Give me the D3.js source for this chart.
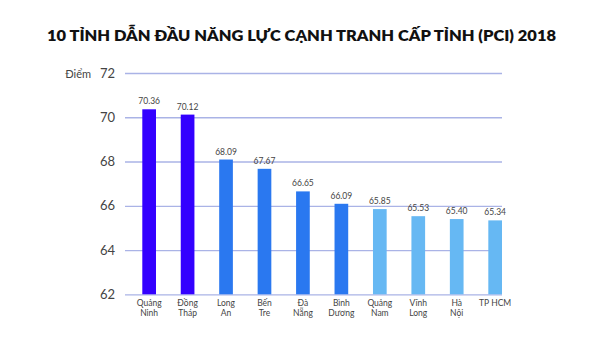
<!DOCTYPE html>
<html>
<head>
<meta charset="utf-8">
<script src="https://cdn.jsdelivr.net/npm/d3@7"></script>
<style>
  html, body { margin: 0; padding: 0; background: #fff; }
  svg { display: block; }
</style>
</head>
<body>
<svg id="chart" width="600" height="337"></svg>
<script>
// PCI 2018 – top 10 provinces
const provinces = [
  ["Quảng", "Ninh"], ["Đồng", "Tháp"], ["Long", "An"], ["Bến", "Tre"], ["Đà", "Nẵng"],
  ["Bình", "Dương"], ["Quảng", "Nam"], ["Vĩnh", "Long"], ["Hà", "Nội"], ["TP HCM"]
];
const scores = [70.36, 70.12, 68.09, 67.67, 66.65, 66.09, 65.85, 65.53, 65.40, 65.34];
const tiers = [0, 0, 1, 1, 1, 1, 2, 2, 2, 2];
const tierColors = ["#3300ff", "#2a78f0", "#66b8f3"];
const yTicks = [62, 64, 66, 68, 70, 72];

const svg = d3.select("#chart");
const FONT = "Lato, 'Noto Sans', sans-serif";

const x = d3.scaleBand()
  .domain(d3.range(scores.length))
  .range([142.3, 502])
  .paddingInner(0.644)
  .paddingOuter(0);

const y = d3.scaleLinear().domain([62, 72]).range([294.3, 73]);

// Title
svg.append("text")
  .attr("x", 47).attr("y", 40.5)
  .attr("textLength", 509)
  .attr("lengthAdjust", "spacingAndGlyphs")
  .attr("font-family", FONT)
  .attr("font-weight", 800)
  .attr("font-size", 15)
  .attr("fill", "#111")
  .text("10 TỈNH DẪN ĐẦU NĂNG LỰC CẠNH TRANH CẤP TỈNH (PCI) 2018");

// Gridlines
const yAxis = d3.axisLeft(y).tickValues(yTicks).tickSize(-(502 - 125)).tickPadding(10);
const gAxis = svg.append("g").attr("transform", "translate(125,0)").call(yAxis);
gAxis.select(".domain").remove();
gAxis.selectAll(".tick line").attr("stroke", "#aab3e6").attr("stroke-width", 1.3);
gAxis.selectAll(".tick text")
  .attr("font-family", FONT)
  .attr("font-size", 13)
  .attr("fill", "#444");

// Unit label
svg.append("text")
  .attr("x", 91).attr("y", y(72) + 4.5)
  .attr("text-anchor", "end")
  .attr("font-family", FONT)
  .attr("font-size", 11)
  .attr("fill", "#444")
  .text("Điểm");

// Bars
svg.append("g").selectAll("rect")
  .data(scores)
  .join("rect")
  .attr("x", (d, i) => x(i))
  .attr("width", x.bandwidth())
  .attr("y", d => y(d))
  .attr("height", d => y(62) - y(d))
  .attr("fill", (d, i) => tierColors[tiers[i]]);

// Value labels
svg.append("g").selectAll("text")
  .data(scores)
  .join("text")
  .attr("x", (d, i) => x(i) + x.bandwidth() / 2)
  .attr("y", d => y(d) - 5)
  .attr("text-anchor", "middle")
  .attr("font-family", FONT)
  .attr("font-size", 8.5)
  .attr("fill", "#444")
  .text(d => d.toFixed(2));

// Category labels
const cat = svg.append("g").selectAll("text")
  .data(provinces)
  .join("text")
  .attr("x", (d, i) => x(i) + x.bandwidth() / 2)
  .attr("y", 306)
  .attr("text-anchor", "middle")
  .attr("font-family", FONT)
  .attr("font-size", 8.5)
  .attr("fill", "#444");
cat.selectAll("tspan")
  .data(d => d)
  .join("tspan")
  .attr("x", function () { return this.parentNode.getAttribute("x"); })
  .attr("dy", (d, i) => i === 0 ? 0 : 10)
  .text(d => d);
</script>
</body>
</html>
